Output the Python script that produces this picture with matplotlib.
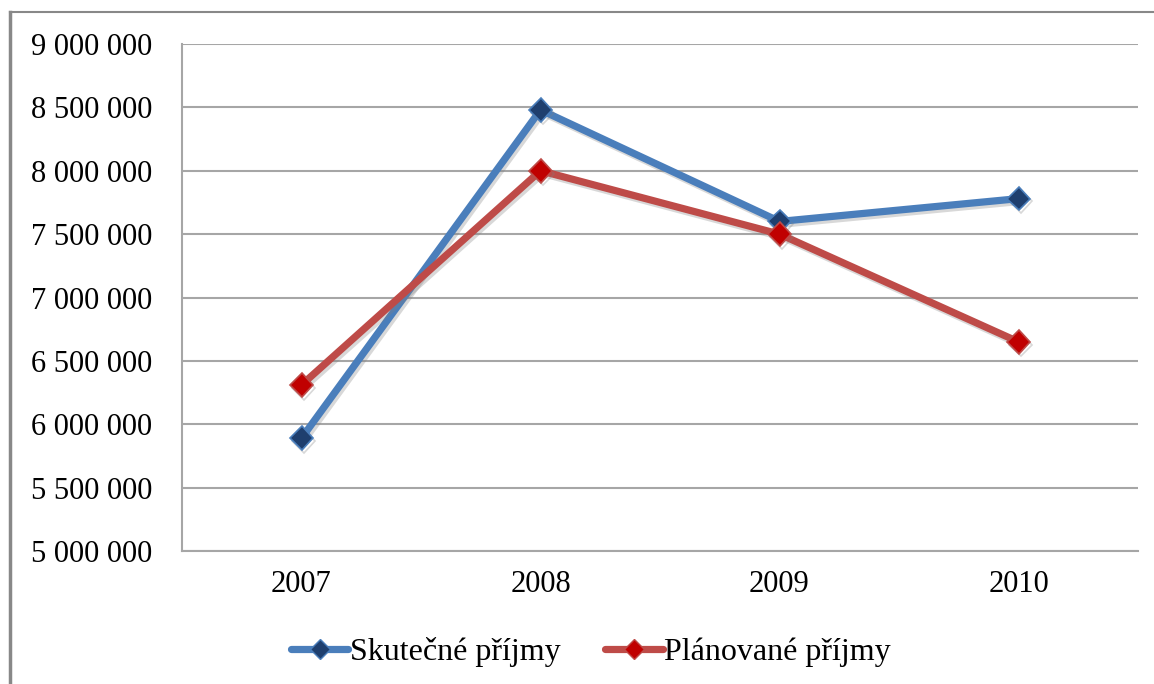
import matplotlib
matplotlib.use("Agg")
import matplotlib.pyplot as plt
from matplotlib.lines import Line2D
from matplotlib.ticker import FuncFormatter
import matplotlib.patheffects as pe

years = ["2007", "2008", "2009", "2010"]
skutecne = [5890000, 8480000, 7600000, 7780000]
planovane = [6310000, 8000000, 7500000, 6650000]
yticks = [5000000, 5500000, 6000000, 6500000, 7000000, 7500000, 8000000, 8500000, 9000000]

plt.rcParams['font.family'] = ['Liberation Serif', 'DejaVu Serif']

W, H = 1154, 684
fig = plt.figure(figsize=(W/100, H/100), dpi=100)
fig.patch.set_facecolor('white')
ax = fig.add_axes([182/W, 1-551/H, (1138-182)/W, (551-44)/H])

x = list(range(len(years)))
shadow = [pe.SimpleLineShadow(offset=(1.5, -2), shadow_color='gray', alpha=0.3), pe.Normal()]
ax.plot(x, skutecne, color='#4A7EBB', lw=5.2, marker='D', ms=12,
        markerfacecolor='#1F3F6E', markeredgecolor='#4A7EBB', markeredgewidth=1.2,
        path_effects=shadow, solid_joinstyle='miter')
ax.plot(x, planovane, color='#BE4B48', lw=5.2, marker='D', ms=12,
        markerfacecolor='#C00000', markeredgecolor='#BE4B48', markeredgewidth=1.2,
        path_effects=shadow, solid_joinstyle='miter')

ax.set_xlim(-0.5, len(years) - 0.5)
ax.set_ylim(5000000, 9000000)
ax.set_yticks(yticks)
ax.yaxis.set_major_formatter(FuncFormatter(lambda v, p: f"{int(v):,}".replace(",", " ")))
ax.set_xticks(x)
ax.set_xticklabels(years)
ax.tick_params(axis='both', length=0, labelsize=22, colors='black')
ax.tick_params(axis='y', pad=21.5)
ax.tick_params(axis='x', pad=14)
ax.grid(axis='y', color='#A6A6A6', lw=1.5)
ax.set_axisbelow(True)
for s in ['top', 'right']:
    ax.spines[s].set_visible(False)
for s in ['left', 'bottom']:
    ax.spines[s].set_color('#A6A6A6')
    ax.spines[s].set_linewidth(1.5)

handles = [
    Line2D([], [], color='#4A7EBB', lw=5.2, marker='D', ms=10,
           markerfacecolor='#1F3F6E', markeredgecolor='#4A7EBB', solid_capstyle='round'),
    Line2D([], [], color='#BE4B48', lw=5.2, marker='D', ms=10,
           markerfacecolor='#C00000', markeredgecolor='#BE4B48', solid_capstyle='round'),
]
fig.legend(handles, ['Skutečné příjmy', 'Plánované příjmy'], loc='center',
           bbox_to_anchor=(591/W, 1-652/H), ncol=2, frameon=False,
           fontsize=23, handlelength=1.8, handletextpad=0.05, columnspacing=1.4)

# outer chart border
fig.add_artist(Line2D([10/W, 1], [1-12/H, 1-12/H], color='#888888', lw=1.5, transform=fig.transFigure))
fig.add_artist(Line2D([10/W, 10/W], [0, 1-12/H], color='#888888', lw=2.5, transform=fig.transFigure))

fig.savefig('out.png', dpi=100, facecolor='white')
